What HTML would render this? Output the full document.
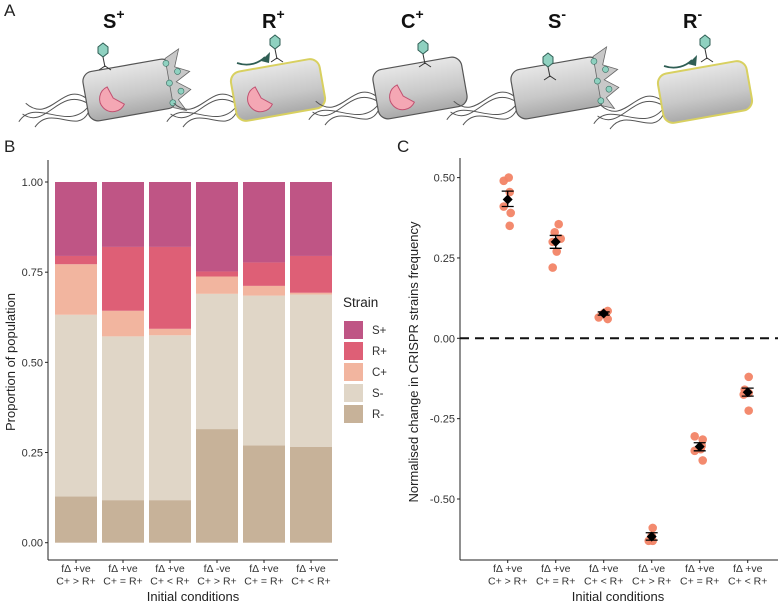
<!DOCTYPE html>
<html><head><meta charset="utf-8">
<style>
body{margin:0;background:#fff;}
svg{display:block;font-family:"Liberation Sans",sans-serif;}
</style></head>
<body>
<svg id="fig" width="778" height="605" viewBox="0 0 778 605">
<defs>
<linearGradient id="cellg" x1="0" y1="0" x2="0" y2="1">
<stop offset="0" stop-color="#e6e6e6"/><stop offset="0.6" stop-color="#c8c8c8"/><stop offset="1" stop-color="#a9a9a9"/>
</linearGradient>
</defs>
<!-- Panel A -->
<g>
<text x="4" y="16" font-size="17" fill="#222">A</text>
<g font-weight="bold" font-size="20" fill="#111">
<text x="103" y="28">S<tspan font-size="14" dy="-9">+</tspan></text>
<text x="262" y="28">R<tspan font-size="14" dy="-9">+</tspan></text>
<text x="401" y="28">C<tspan font-size="14" dy="-9">+</tspan></text>
<text x="548" y="28">S<tspan font-size="14" dy="-9">-</tspan></text>
<text x="683" y="28">R<tspan font-size="14" dy="-9">-</tspan></text>
</g>
<g id="cells"></g>
</g>
<!-- Panel B -->
<g>
<text x="4" y="152" font-size="17" fill="#222">B</text>
<g id="barchart"></g>
</g>
<!-- Panel C -->
<g>
<text x="397" y="152" font-size="17" fill="#222">C</text>
<g id="dotchart"></g>
</g>
</svg>
<script>
const NS="http://www.w3.org/2000/svg";
function mk(tag,attrs,parent){const e=document.createElementNS(NS,tag);for(const k in attrs)e.setAttribute(k,attrs[k]);parent.appendChild(e);return e;}

// ---------- Panel B data ----------
const categories=["fΔ +ve|C+ > R+","fΔ +ve|C+ = R+","fΔ +ve|C+ < R+","fΔ -ve|C+ > R+","fΔ +ve|C+ = R+","fΔ +ve|C+ < R+"];
const strains=["S+","R+","C+","S-","R-"];
const strainColors=["#bf5585","#de5f76","#f2b59f","#e0d6c7","#c7b299"];
const valRminus=[0.128,0.118,0.118,0.315,0.270,0.266];
const valSminus=[0.504,0.454,0.457,0.375,0.415,0.422];
const valCplus=[0.140,0.071,0.018,0.048,0.027,0.005];
const valRplus=[0.023,0.177,0.227,0.014,0.065,0.102];
const valSplus=[0.205,0.180,0.180,0.248,0.223,0.205];
const yTicksB=[0,0.25,0.5,0.75,1.0];
const yTickLabelsB=["0.00","0.25","0.50","0.75","1.00"];

// ---------- Panel C data ----------
const meansC=[0.432,0.300,0.077,-0.617,-0.337,-0.168];
const errLoC=[0.410,0.280,0.072,-0.628,-0.350,-0.180];
const errHiC=[0.458,0.320,0.082,-0.605,-0.325,-0.155];
const pointGroupC=[0,0,0,0,0,0,1,1,1,1,1,1,2,2,2,2,2,3,3,3,3,4,4,4,4,4,4,5,5,5,5,5];
const pointValC=[0.49,0.50,0.455,0.41,0.39,0.35,0.33,0.355,0.31,0.30,0.27,0.22,0.065,0.085,0.06,0.075,0.08,-0.59,-0.63,-0.63,-0.615,-0.305,-0.315,-0.35,-0.335,-0.38,-0.345,-0.12,-0.16,-0.175,-0.225,-0.17];
const pointJitterC=[-4,1,2,-4,3,2,-1,3,5,-3,1,-3,-5,4,4,-1,1,1,-3,1,0,-5,3,-5,2,3,1,1,-3,-4,1,1];
const yTicksC=[-0.5,-0.25,0,0.25,0.5];
const yTickLabelsC=["-0.50","-0.25","0.00","0.25","0.50"];

// ---------- Panel A cells ----------
(function(){
const g=document.getElementById('cells');
const cells=[{x:130,y:90,lyse:true,pac:true,yellow:false,ph:true},{x:278,y:90,lyse:false,pac:true,yellow:true,ph:false},{x:420,y:88,lyse:false,pac:true,yellow:false,ph:false,inj:true},{x:558,y:88,lyse:true,pac:false,yellow:false,ph:true},{x:705,y:92,lyse:false,pac:false,yellow:true,ph:false}];
const names=["cell-s-plus","cell-r-plus","cell-c-plus","cell-s-minus","cell-r-minus"];
cells.forEach((c,i)=>{
const cg=mk('g',{transform:`translate(${c.x},${c.y}) rotate(-10)`},g);


// flagella
const fl=mk('path',{d:"M-45,5 C-70,-15 -90,25 -110,5 M-45,10 C-70,30 -95,-10 -115,12 M-45,0 C-65,-20 -85,20 -105,-5 M-45,15 C-60,35 -80,0 -100,20",fill:"none",stroke:"#555","stroke-width":1},cg);
mk('rect',{x:-45,y:-25,width:90,height:50,rx:10,fill:"url(#cellg)",stroke:c.yellow?"#d8d060":"#555","stroke-width":c.yellow?2:1.2},cg);
if(c.lyse){mk('path',{d:"M40,-25 L55,-32 L48,-15 L62,-8 L47,0 L60,10 L46,18 L52,30 L40,25 Z",fill:"#c8c8c8",stroke:"#666","stroke-width":0.8},cg);
for(let k=0;k<5;k++)mk('circle',{cx:40+(k%2)*10,cy:-20+k*10,r:3,fill:"#8fd1c0",stroke:"#3a6e62","stroke-width":0.6},cg);}
if(c.pac)mk('path',{d:"M-14,-12 A13,13 0 1 0 0,8 L-10,0 Z",transform:"translate(-8,5)",fill:"#f4a7b4",stroke:"#c05070","stroke-width":1},cg);
});
// phages
const phages=[[103,50],[275,42],[423,47],[548,60],[705,42]];
phages.forEach((p,i)=>{
const pg=mk('g',{},g);


mk('polygon',{points:`${p[0]-5},${p[1]-3} ${p[0]},${p[1]-7} ${p[0]+5},${p[1]-3} ${p[0]+5},${p[1]+3} ${p[0]},${p[1]+7} ${p[0]-5},${p[1]+3}`,fill:"#8fd1c0",stroke:"#2f5e54","stroke-width":1},pg);
mk('line',{x1:p[0],y1:p[1]+7,x2:p[0]+2,y2:p[1]+17,stroke:"#333","stroke-width":1},pg);
mk('path',{d:`M${p[0]-4},${p[1]+20} L${p[0]+2},${p[1]+16} L${p[0]+8},${p[1]+20}`,fill:"none",stroke:"#333","stroke-width":1},pg);
});
[[237,63],[664,66]].forEach(a=>{
const ar=mk('path',{d:`M${a[0]},${a[1]} C${a[0]+12},${a[1]+4} ${a[0]+22},${a[1]} ${a[0]+28},${a[1]-6}`,fill:"none",stroke:"#2f5e54","stroke-width":1.8},g);


mk('polygon',{points:`${a[0]+24},${a[1]-2} ${a[0]+33},${a[1]-11} ${a[0]+32},${a[1]}`,fill:"#2f5e54"},g);
});
})();

// ---------- Panel B draw ----------
(function(){
const g=document.getElementById('barchart');
const y0=542.7,y1=182;
const ys=v=>y0+(y1-y0)*v;
const xs=i=>76+i*47;
const bw=42;
mk('line',{x1:48,y1:160,x2:48,y2:560,stroke:"#222","stroke-width":1},g);
mk('line',{x1:48,y1:560,x2:338,y2:560,stroke:"#222","stroke-width":1},g);
yTicksB.forEach((t,i)=>{
mk('line',{x1:45,y1:ys(t),x2:48,y2:ys(t),stroke:"#222"},g);
const tx=mk('text',{x:43,y:ys(t)+4,"text-anchor":"end","font-size":11,fill:"#333"},g);tx.textContent=yTickLabelsB[i];


});
const series=[valRminus,valSminus,valCplus,valRplus,valSplus];
const colIdx=[4,3,2,1,0];
categories.forEach((c,i)=>{
let cum=0;
series.forEach((s,k)=>{
const r=mk('rect',{x:xs(i)-bw/2,y:ys(cum+s[i]),width:bw,height:ys(cum)-ys(cum+s[i]),fill:strainColors[colIdx[k]]},g);


cum+=s[i];
});
mk('line',{x1:xs(i),y1:560,x2:xs(i),y2:563,stroke:"#222"},g);
const parts=c.split('|');
const t=mk('text',{x:xs(i),y:572,"text-anchor":"middle","font-size":10.5,fill:"#333"},g);


mk('tspan',{x:xs(i),dy:0},t).textContent=parts[0];
mk('tspan',{x:xs(i),dy:12.5},t).textContent=parts[1];
});
const xt=mk('text',{x:193,y:601,"text-anchor":"middle","font-size":13,fill:"#222"},g);xt.textContent="Initial conditions";

const yt=mk('text',{x:0,y:0,transform:"translate(15,362) rotate(-90)","text-anchor":"middle","font-size":13,fill:"#222"},g);yt.textContent="Proportion of population";

const lt=mk('text',{x:343,y:307,"font-size":13.5,fill:"#222"},g);lt.textContent="Strain";

strains.forEach((s,k)=>{
const r=mk('rect',{x:344,y:321+k*21,width:19,height:18,fill:strainColors[k]},g);

const t=mk('text',{x:372,y:334+k*21,"font-size":11.5,fill:"#333"},g);t.textContent=s;

});
})();

// ---------- Panel C draw ----------
(function(){
const g=document.getElementById('dotchart');
const ys=v=>338.3-v*321.4;
const xs=i=>507.7+i*48;
mk('line',{x1:460,y1:158,x2:460,y2:560,stroke:"#222"},g);
mk('line',{x1:460,y1:560,x2:778,y2:560,stroke:"#222"},g);
yTicksC.forEach((t,i)=>{
mk('line',{x1:457,y1:ys(t),x2:460,y2:ys(t),stroke:"#222"},g);
const tx=mk('text',{x:455,y:ys(t)+4,"text-anchor":"end","font-size":11,fill:"#333"},g);tx.textContent=yTickLabelsC[i];

});
const zl=mk('line',{x1:460,y1:ys(0),x2:778,y2:ys(0),stroke:"#111","stroke-width":2,"stroke-dasharray":"9,6"},g);

pointValC.forEach((v,j)=>{
const c=mk('circle',{cx:xs(pointGroupC[j])+pointJitterC[j],cy:ys(v),r:4.3,fill:"#f28466","fill-opacity":0.95},g);

});
meansC.forEach((m,i)=>{
const x=xs(i);
const eb=mk('path',{d:`M${x-6},${ys(errHiC[i])} H${x+6} M${x},${ys(errHiC[i])} V${ys(errLoC[i])} M${x-6},${ys(errLoC[i])} H${x+6}`,stroke:"#000","stroke-width":1.3,fill:"none"},g);

const y=ys(m);
const d=mk('polygon',{points:`${x},${y-5} ${x+5},${y} ${x},${y+5} ${x-5},${y}`,fill:"#000"},g);

mk('line',{x1:x,y1:560,x2:x,y2:563,stroke:"#222"},g);
const parts=categories[i].split('|');
const t=mk('text',{x:x,y:572,"text-anchor":"middle","font-size":10.5,fill:"#333"},g);

mk('tspan',{x:x,dy:0},t).textContent=parts[0];
mk('tspan',{x:x,dy:12.5},t).textContent=parts[1];
});
const xt=mk('text',{x:618,y:601,"text-anchor":"middle","font-size":13,fill:"#222"},g);xt.textContent="Initial conditions";

const yt=mk('text',{x:0,y:0,transform:"translate(418,362) rotate(-90)","text-anchor":"middle","font-size":13,fill:"#222"},g);yt.textContent="Normalised change in CRISPR strains frequency";

})();
</script>
</body></html>
